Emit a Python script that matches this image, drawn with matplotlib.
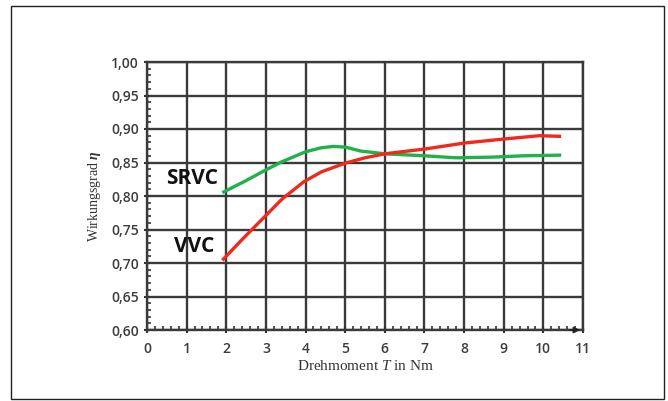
import matplotlib
matplotlib.use("Agg")
import matplotlib.pyplot as plt
from matplotlib.ticker import MultipleLocator, FuncFormatter
from matplotlib.patches import Rectangle

plt.rcParams['mathtext.fontset'] = 'custom'
plt.rcParams['mathtext.rm'] = 'Liberation Serif'
plt.rcParams['mathtext.it'] = 'Liberation Serif:italic'
plt.rcParams['mathtext.bf'] = 'Liberation Serif:bold'
plt.rcParams['mathtext.bfit'] = 'Liberation Serif:bold:italic'

# Data
srvc_T = [1.9, 2.5, 3.0, 3.4, 4.0, 4.4, 4.7, 5.0, 5.4, 6.0, 7.0, 7.8, 8.7, 9.5, 10.45]
srvc_eta = [0.805, 0.823, 0.839, 0.851, 0.866, 0.872, 0.874, 0.873, 0.867, 0.863, 0.860, 0.857, 0.858, 0.860, 0.861]
vvc_T = [1.9, 2.4, 2.9, 3.4, 3.95, 4.4, 5.0, 5.5, 6.0, 7.0, 8.0, 9.0, 9.9, 10.45]
vvc_eta = [0.704, 0.735, 0.765, 0.795, 0.821, 0.836, 0.849, 0.857, 0.863, 0.870, 0.879, 0.885, 0.890, 0.889]
x_ticks = list(range(0, 12))
y_ticks = [0.60, 0.65, 0.70, 0.75, 0.80, 0.85, 0.90, 0.95, 1.00]

fig = plt.figure(figsize=(6.68, 4.01), dpi=100)
ax = fig.add_axes([147/668, 1-330/401, (583-147)/668, (330-62)/401])

# outer frame
fig.patches.append(Rectangle((11/668, 1-399/401), (664-11)/668, (399-6)/401,
                             transform=fig.transFigure, fill=False, edgecolor='#222222', lw=1.0))

ax.set_xlim(0, 11)
ax.set_ylim(0.60, 1.00)
ax.set_xticks(x_ticks)
ax.set_yticks(y_ticks)
ax.xaxis.set_minor_locator(MultipleLocator(0.2))
ax.yaxis.set_minor_locator(MultipleLocator(0.01))
ax.yaxis.set_major_formatter(FuncFormatter(lambda v, p: f"{v:.2f}".replace('.', ',')))

ax.grid(True, which='major', color='#3a3a3a', lw=1.7, zorder=1)
for s in ax.spines.values():
    s.set_color('#3a3a3a')
    s.set_linewidth(1.7)

ax.tick_params(axis='both', which='major', direction='inout', length=5, width=1.5, color='#333333',
               labelsize=10, labelcolor='#3c3c3c')
ax.tick_params(axis='both', which='minor', direction='in', length=3, width=1.2, color='#333333')
ax.tick_params(axis='x', pad=6)
for lbl in ax.get_xticklabels() + ax.get_yticklabels():
    lbl.set_fontfamily('Open Sans')
    lbl.set_fontweight('semibold')

ax.plot(srvc_T, srvc_eta, color='#1fb24a', lw=2.4, zorder=3, solid_capstyle='butt', solid_joinstyle='round')
ax.plot(vvc_T, vvc_eta, color='#f0291e', lw=2.4, zorder=3, solid_capstyle='butt', solid_joinstyle='round')

ax.text(srvc_T[0] - 0.1, srvc_eta[0] + 0.005, 'SRVC', ha='right', va='bottom',
        fontsize=15, fontweight='bold', family='Open Sans', color='#111111')
ax.text(vvc_T[0] - 0.2, vvc_eta[0] + 0.005, 'VVC', ha='right', va='bottom',
        fontsize=15, fontweight='bold', family='Open Sans', color='#111111')

# arrow at the end of the x axis
ax.annotate('', xy=(11, 0.60), xytext=(10.6, 0.60),
            arrowprops=dict(arrowstyle='-|>', color='#222222', lw=1.2, mutation_scale=9),
            annotation_clip=False)

ax.set_xlabel(r'Drehmoment $\mathit{T}$ in Nm', family='Liberation Serif', fontsize=11,
              color='#333333', labelpad=2)
ax.set_ylabel(r'Wirkungsgrad $\boldsymbol{\eta}$', family='Liberation Serif', fontsize=10,
              color='#333333', labelpad=6)

fig.savefig('out.png', dpi=100)
